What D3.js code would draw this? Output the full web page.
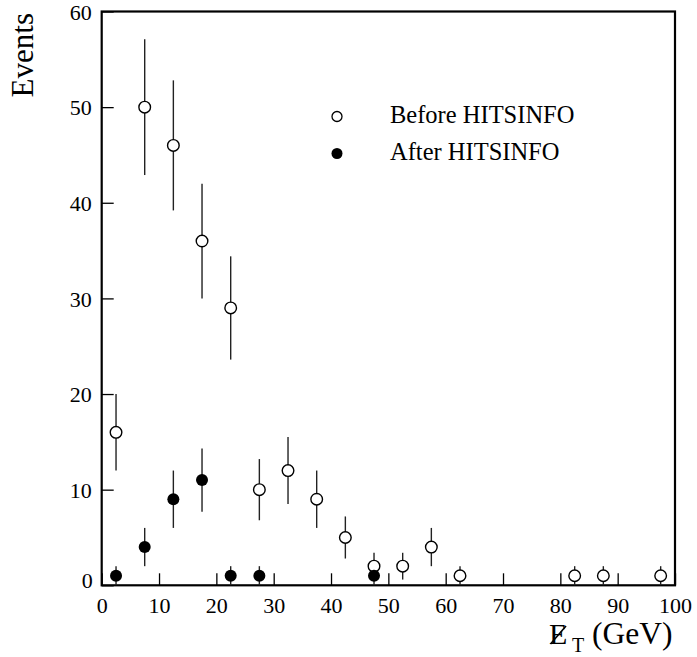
<!DOCTYPE html>
<html>
<head>
<meta charset="utf-8">
<script src="https://cdn.jsdelivr.net/npm/d3@7"></script>
<style>
  html, body { margin: 0; padding: 0; background: #fff; }
  svg { display: block; font-family: "Liberation Serif", "Times New Roman", Times, "DejaVu Serif", serif; }
  svg text { font-family: "Liberation Serif", "Times New Roman", Times, "DejaVu Serif", serif !important; fill: #000; }
</style>
</head>
<body>
<svg id="chart" width="697" height="657"></svg>
<script>
// Bin centres (GeV) and event counts
const binCentres = [2.5, 7.5, 12.5, 17.5, 22.5, 27.5, 32.5, 37.5, 42.5, 47.5, 52.5, 57.5, 62.5, 82.5, 87.5, 97.5];
const beforeCounts = [16, 50, 46, 36, 29, 10, 12, 9, 5, 2, 2, 4, 1, 1, 1, 1];
const beforeErrors = [4, 7.1, 6.8, 6, 5.4, 3.2, 3.5, 3, 2.2, 1.4, 1.4, 2, 1, 1, 1, 1];

const afterCentres = [2.5, 7.5, 12.5, 17.5, 22.5, 27.5, 47.5];
const afterCounts = [1, 4, 9, 11, 1, 1, 1];
const afterErrors = [1, 2, 3, 3.3, 1, 1, 1];

const xTicks = [0, 10, 20, 30, 40, 50, 60, 70, 80, 90, 100];
const yTicks = [0, 10, 20, 30, 40, 50, 60];

const seriesNames = ["Before HITSINFO", "After HITSINFO"];

const svg = d3.select("#chart");
const plotLeft = 101.7, plotRight = 675, plotTop = 11.5, plotBottom = 585.3;

const x = d3.scaleLinear().domain([0, 100]).range([plotLeft, plotRight]);
const y = d3.scaleLinear().domain([0, 60]).range([plotBottom, plotTop]);

// Inward ticks on bottom and left axes
const xAxis = d3.axisBottom(x).tickValues(xTicks).tickSizeInner(-12).tickSizeOuter(0).tickPadding(12);
const yAxis = d3.axisLeft(y).tickValues(yTicks).tickSizeInner(-12).tickSizeOuter(0).tickPadding(10);

const gx = svg.append("g").attr("transform", `translate(0,${plotBottom})`).call(xAxis);
const gy = svg.append("g").attr("transform", `translate(${plotLeft},0)`).call(yAxis);
[gx, gy].forEach(g => {
  g.attr("font-family", null);
  g.select(".domain").remove();
  g.selectAll(".tick line").attr("stroke", "#000").attr("stroke-width", 1.3);
  g.selectAll(".tick text").style("font-size", "22px").attr("fill", "#000");
});
gx.selectAll(".tick text").attr("dy", "0.72em");
gy.selectAll(".tick text").attr("dy", "0.35em");
// keep the x "0" label clear of the y "0" label
gy.selectAll(".tick").filter(d => d === 0).select("text").attr("dy", "0.1em").attr("x", -9);

// Frame
svg.append("rect")
  .attr("x", plotLeft).attr("y", plotTop)
  .attr("width", plotRight - plotLeft).attr("height", plotBottom - plotTop)
  .attr("fill", "none").attr("stroke", "#000").attr("stroke-width", 2.2);

// Error bars
const before = binCentres.map((c, i) => ({ c, v: beforeCounts[i], e: beforeErrors[i] }));
const after = afterCentres.map((c, i) => ({ c, v: afterCounts[i], e: afterErrors[i] }));

function errorBars(data) {
  svg.append("g").selectAll("line").data(data).join("line")
    .attr("x1", d => x(d.c)).attr("x2", d => x(d.c))
    .attr("y1", d => y(Math.max(0, d.v - d.e))).attr("y2", d => y(d.v + d.e))
    .attr("stroke", "#222").attr("stroke-width", 1.4);
}
errorBars(before);
errorBars(after);

// Markers
svg.append("g").selectAll("circle").data(before).join("circle")
  .attr("cx", d => x(d.c)).attr("cy", d => y(d.v)).attr("r", 5.8)
  .attr("fill", "#fff").attr("stroke", "#000").attr("stroke-width", 1.4);
svg.append("g").selectAll("circle").data(after).join("circle")
  .attr("cx", d => x(d.c)).attr("cy", d => y(d.v)).attr("r", 6)
  .attr("fill", "#000");

// Legend
const legend = svg.append("g");
legend.append("circle").attr("cx", 337).attr("cy", 116.5).attr("r", 5)
  .attr("fill", "#fff").attr("stroke", "#000").attr("stroke-width", 1.3);
legend.append("circle").attr("cx", 337).attr("cy", 153.5).attr("r", 5.5).attr("fill", "#000");
legend.append("text").attr("x", 390).attr("y", 122.5).style("font-size", "24.5px").text(seriesNames[0]);
legend.append("text").attr("x", 390).attr("y", 160).style("font-size", "24.5px").text(seriesNames[1]);

// Axis titles
svg.append("text")
  .attr("transform", "translate(33,13) rotate(-90)")
  .attr("text-anchor", "end")
  .style("font-size", "31px")
  .text("Events");

const xt = svg.append("g");
xt.append("text").attr("x", 549).attr("y", 644).style("font-size", "30px").text("E");
xt.append("text").attr("x", 572).attr("y", 652).style("font-size", "20px").text("T");
xt.append("text").attr("x", 592).attr("y", 644).style("font-size", "31.5px").text("(GeV)");
// slash through the E for missing transverse energy
xt.append("line")
  .attr("x1", 550.5).attr("y1", 644).attr("x2", 566).attr("y2", 626)
  .attr("stroke", "#000").attr("stroke-width", 1.6);
</script>
</body>
</html>
